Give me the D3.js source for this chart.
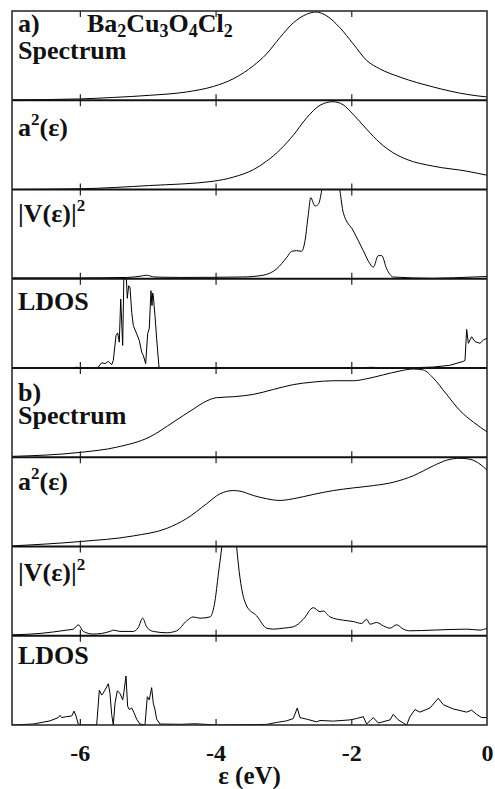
<!DOCTYPE html>
<html>
<head>
<meta charset="utf-8">
<script src="https://cdn.jsdelivr.net/npm/d3@7"></script>
<style>
  body { margin: 0; background: #fff; }
  text { font-family: "Liberation Serif", "DejaVu Serif", "Times New Roman", serif; font-weight: bold; fill: #111; }
</style>
</head>
<body>
<div id="chart"></div>
<script>
// energy axis
const energyTicks = [-6, -4, -2, 0];
const innerTicks = [-6, -4, -2];

// a) Ba2Cu3O4Cl2 : [energy (eV), normalised value]
const spectrumA = [[-7,0.004],[-6,0.015],[-5.5,0.032],[-4.97,0.056],[-4.43,0.094],[-4.03,0.157],[-3.74,0.243],
  [-3.44,0.393],[-3.25,0.524],[-3.05,0.712],[-2.85,0.88],[-2.66,0.974],[-2.52,1.0],[-2.36,0.955],[-2.17,0.824],
  [-1.97,0.637],[-1.77,0.449],[-1.58,0.356],[-1.28,0.262],[-0.79,0.15],[-0.3,0.067],[0,0.037]];

const a2A = [[-7,0],[-6,0.008],[-4.97,0.045],[-4.03,0.094],[-3.74,0.14],[-3.44,0.226],[-3.25,0.32],[-3.05,0.45],
  [-2.85,0.62],[-2.66,0.81],[-2.46,0.955],[-2.27,0.995],[-2.12,0.96],[-1.97,0.85],[-1.77,0.68],[-1.58,0.53],
  [-1.38,0.415],[-1.18,0.34],[-0.79,0.264],[-0.3,0.208],[0,0.162]];

const vA = [[-7,0.01],[-6,0.01],[-5.3,0.015],[-5.1,0.03],[-5.02,0.04],[-4.9,0.02],[-4.5,0.015],[-3.6,0.02],
  [-3.3,0.04],[-3.1,0.112],[-2.95,0.243],[-2.878,0.311],[-2.805,0.318],[-2.731,0.311],[-2.682,0.431],
  [-2.633,0.73],[-2.598,0.918],[-2.535,0.824],[-2.486,0.843],[-2.436,1.0],[-2.38,1.3],[-2.3,1.5],[-2.22,1.3],
  [-2.167,1.0],[-2.118,0.749],[-1.97,0.543],[-1.823,0.318],[-1.724,0.169],[-1.676,0.131],[-1.602,0.262],
  [-1.552,0.262],[-1.478,0.112],[-1.381,0.02],[-0.79,0.005],[-0.2,0.02],[0,0.025]];

const ldosA = [[-7,0],[-6.1,0],[-6.05,0.01],[-6.0,0],[-5.76,0],[-5.728,0.011],[-5.678,0.06],[-5.63,0.049],
  [-5.581,0.075],[-5.531,0.038],[-5.507,0.086],[-5.467,0.368],[-5.443,0.398],[-5.419,0.293],[-5.398,0.782],
  [-5.369,0.256],[-5.35,1.1],[-5.32,1.1],[-5.301,0.789],[-5.281,0.932],[-5.261,0.914],[-5.236,0.632],
  [-5.212,0.481],[-5.163,0.387],[-5.124,0.312],[-5.089,0.18],[-5.065,0.143],[-5.03,0.049],[-5.001,0.387],
  [-4.977,0.451],[-4.952,0.876],[-4.937,0.707],[-4.927,0.85],[-4.918,0.82],[-4.893,0.594],[-4.868,0.331],
  [-4.834,0.011],[-4.8,0],[-3.1,0],[-2.9,0.005],[-2.6,0.003],[-2.4,0.005],[-2.0,0],[-1.7,0.008],[-1.5,0],
  [-1.2,0],[-0.79,0.011],[-0.55,0.03],[-0.35,0.075],[-0.324,0.086],[-0.3,0.437],[-0.275,0.28],[-0.226,0.354],
  [-0.177,0.299],[-0.103,0.28],[-0.054,0.317],[0,0.336]];

// b) : [energy (eV), normalised value]
const spectrumB = [[-7,0.01],[-6,0.055],[-5.457,0.114],[-4.966,0.232],[-4.623,0.398],[-4.328,0.546],[-4.131,0.638],
  [-3.984,0.675],[-3.739,0.686],[-3.444,0.712],[-3.149,0.768],[-2.855,0.823],[-2.56,0.852],[-2.265,0.867],
  [-1.97,0.867],[-1.774,0.889],[-1.528,0.934],[-1.282,0.978],[-1.086,1.0],[-0.939,0.989],[-0.791,0.897],
  [-0.595,0.712],[-0.398,0.528],[-0.202,0.399],[0,0.288]];

const a2B = [[-7,0.007],[-6,0.056],[-5.212,0.12],[-4.72,0.205],[-4.426,0.317],[-4.131,0.485],[-3.935,0.597],
  [-3.739,0.634],[-3.64,0.627],[-3.444,0.578],[-3.247,0.541],[-3.051,0.522],[-2.855,0.541],[-2.56,0.59],
  [-2.265,0.634],[-1.97,0.664],[-1.676,0.69],[-1.381,0.728],[-1.086,0.802],[-0.791,0.914],[-0.595,0.978],
  [-0.398,1.0],[-0.251,0.989],[-0.103,0.933],[0,0.866]];

const vB = [[-7,0.011],[-6.587,0.026],[-6.194,0.064],[-6.096,0.075],[-6.023,0.124],[-5.949,0.049],[-5.802,0.019],
  [-5.556,0.049],[-5.507,0.064],[-5.409,0.049],[-5.212,0.049],[-5.139,0.094],[-5.075,0.199],[-5.016,0.101],
  [-4.918,0.049],[-4.72,0.034],[-4.573,0.056],[-4.426,0.169],[-4.328,0.213],[-4.23,0.199],[-4.082,0.213],
  [-4.009,0.393],[-3.96,0.693],[-3.91,1.0],[-3.85,1.5],[-3.75,1.6],[-3.689,1.0],[-3.64,0.655],[-3.541,0.337],
  [-3.394,0.225],[-3.247,0.086],[-3.149,0.075],[-3.002,0.086],[-2.855,0.101],[-2.707,0.187],[-2.56,0.318],
  [-2.461,0.273],[-2.413,0.281],[-2.314,0.213],[-2.118,0.176],[-1.97,0.161],[-1.847,0.139],[-1.774,0.187],
  [-1.724,0.131],[-1.626,0.15],[-1.528,0.112],[-1.43,0.086],[-1.331,0.124],[-1.233,0.075],[-1.135,0.056],
  [-0.791,0.064],[-0.3,0.075],[-0.103,0.064],[0,0.086]];

const ldosB = [[-7,0],[-6.686,0.011],[-6.44,0.047],[-6.318,0.084],[-6.293,0.109],[-6.268,0.084],[-6.194,0.095],
  [-6.12,0.102],[-6.086,0.157],[-6.057,0.102],[-6.023,0.011],[-5.973,0],[-5.752,0],[-5.713,0.394],[-5.678,0.339],
  [-5.644,0.376],[-5.605,0.431],[-5.581,0.467],[-5.556,0.358],[-5.531,0.12],[-5.507,0],[-5.482,0.248],
  [-5.448,0.387],[-5.409,0.358],[-5.369,0.285],[-5.35,0.376],[-5.32,0.555],[-5.296,0.212],[-5.271,0.175],
  [-5.236,0.193],[-5.202,0.139],[-5.163,0.066],[-5.114,0.011],[-5.04,0],[-5.006,0.321],[-4.977,0.285],
  [-4.942,0.423],[-4.918,0.248],[-4.893,0.175],[-4.868,0.066],[-4.819,0.011],[-4.5,0.008],[-4.3,0.014],
  [-4.23,0.011],[-3.984,0],[-3.247,0.007],[-3.1,0.029],[-2.952,0.047],[-2.855,0.073],[-2.796,0.193],
  [-2.756,0.084],[-2.658,0.066],[-2.51,0.036],[-2.461,0.051],[-2.265,0.044],[-2.019,0.058],[-1.921,0.073],
  [-1.823,0.095],[-1.774,0.011],[-1.724,0.047],[-1.676,0.084],[-1.602,0.022],[-1.43,0.058],[-1.381,0.12],
  [-1.307,0.058],[-1.233,0.022],[-1.184,0],[-1.135,0.095],[-1.061,0.175],[-0.988,0.146],[-0.84,0.193],
  [-0.718,0.303],[-0.644,0.23],[-0.497,0.182],[-0.3,0.146],[-0.226,0.168],[-0.152,0.12],[-0.079,0.084],[0,0.084]];

const panelSeries = [spectrumA, a2A, vA, ldosA, spectrumB, a2B, vB, ldosB];
const panelKinds = ["spectrum", "a2", "v2", "ldos", "spectrum", "a2", "v2", "ldos"];
const panelTags = ["a)", "", "", "", "b)", "", "", ""];

const width = 495, height = 789;
const plotLeft = 12, plotRight = 487, plotTop = 11, plotBottom = 725;
const panelH = (plotBottom - plotTop) / panelSeries.length;
const serif = "'Liberation Serif', 'DejaVu Serif', 'Times New Roman', serif";

const svg = d3.select("#chart").append("svg")
  .attr("width", width)
  .attr("height", height);

const x = d3.scaleLinear().domain([-7, 0]).range([plotLeft, plotRight]);

// first label baseline, offset from the panel's top edge
const labelOffset = [21, 36, 32, 31, 33, 33, 34, 28];

function label(px, py, size) {
  return svg.append("text")
    .attr("x", px).attr("y", py)
    .attr("font-family", serif)
    .attr("font-weight", "bold")
    .attr("font-size", size || 26);
}

panelSeries.forEach((data, i) => {
  const y0 = plotTop + i * panelH;
  const y = d3.scaleLinear().domain([0, 1]).range([y0 + panelH, y0 + 1]);

  svg.append("clipPath").attr("id", "clip" + i)
    .append("rect")
    .attr("x", plotLeft).attr("y", y0)
    .attr("width", plotRight - plotLeft).attr("height", panelH);

  const smooth = panelKinds[i] !== "ldos";
  const line = d3.line()
    .x(d => x(d[0]))
    .y(d => y(d[1]))
    .curve(smooth ? d3.curveMonotoneX : d3.curveLinear);

  svg.append("path")
    .datum(data)
    .attr("clip-path", `url(#clip${i})`)
    .attr("d", line)
    .attr("fill", "none")
    .attr("stroke", "#000")
    .attr("stroke-width", 1);

  // inward ticks on top and bottom edge
  svg.append("g")
    .attr("transform", `translate(0,${y0})`)
    .call(d3.axisTop(x).tickValues(innerTicks).tickSize(-6).tickFormat(""))
    .call(g => g.select(".domain").remove())
    .selectAll("line").attr("stroke", "#222").attr("stroke-width", 1.2);

  svg.append("g")
    .attr("transform", `translate(0,${y0 + panelH})`)
    .call(d3.axisBottom(x).tickValues(innerTicks).tickSize(-6).tickFormat(""))
    .call(g => g.select(".domain").remove())
    .selectAll("line").attr("stroke", "#222").attr("stroke-width", 1.2);

  // panel label
  const lx = 18, ly = y0 + labelOffset[i];
  const kind = panelKinds[i];
  if (kind === "spectrum") {
    const t = label(lx, ly);
    t.append("tspan").text(panelTags[i]);
    t.append("tspan").attr("x", lx).attr("dy", i === 0 ? 27 : 23).text("Spectrum");
  } else if (kind === "a2") {
    const t = label(lx, ly);
    t.append("tspan").text("a");
    t.append("tspan").attr("dy", -11).attr("font-size", 17).text("2");
    t.append("tspan").attr("dy", 11).text("(ε)");
  } else if (kind === "v2") {
    const t = label(lx, ly);
    t.append("tspan").text("|V(ε)|");
    t.append("tspan").attr("dy", -11).attr("font-size", 17).text("2");
  } else {
    label(lx, ly).text("LDOS");
  }
});

// compound name
const title = label(87, plotTop + 21);
[["Ba", ""], ["2", "sub"], ["Cu", ""], ["3", "sub"], ["O", ""], ["4", "sub"], ["Cl", ""], ["2", "sub"]]
  .forEach((p, k, arr) => {
    const prevSub = k > 0 && arr[k - 1][1] === "sub";
    const ts = title.append("tspan").text(p[0]);
    if (p[1] === "sub") ts.attr("font-size", 18).attr("dy", 5);
    else if (prevSub) ts.attr("dy", -5);
  });

// panel separators and frame
for (let i = 1; i < panelSeries.length; i++) {
  svg.append("line")
    .attr("x1", plotLeft).attr("x2", plotRight)
    .attr("y1", plotTop + i * panelH).attr("y2", plotTop + i * panelH)
    .attr("stroke", "#111").attr("stroke-width", 1.8);
}
svg.append("rect")
  .attr("x", plotLeft).attr("y", plotTop)
  .attr("width", plotRight - plotLeft).attr("height", plotBottom - plotTop)
  .attr("fill", "none").attr("stroke", "#222").attr("stroke-width", 1.5);

// energy axis labels
const axis = svg.append("g")
  .attr("transform", `translate(0,${plotBottom})`)
  .call(d3.axisBottom(x).tickValues(energyTicks).tickSize(0).tickFormat(d3.format("d")));
axis.select(".domain").remove();
axis.selectAll("text")
  .attr("y", 36).attr("dy", 0)
  .attr("font-size", 24)
  .attr("font-family", serif)
  .attr("font-weight", "bold")
  .attr("fill", "#111")
  .text(d => d === 0 ? "0" : "-" + Math.abs(d));

label((plotLeft + plotRight) / 2, 784, 25)
  .attr("text-anchor", "middle")
  .text("ε (eV)");
</script>
</body>
</html>
